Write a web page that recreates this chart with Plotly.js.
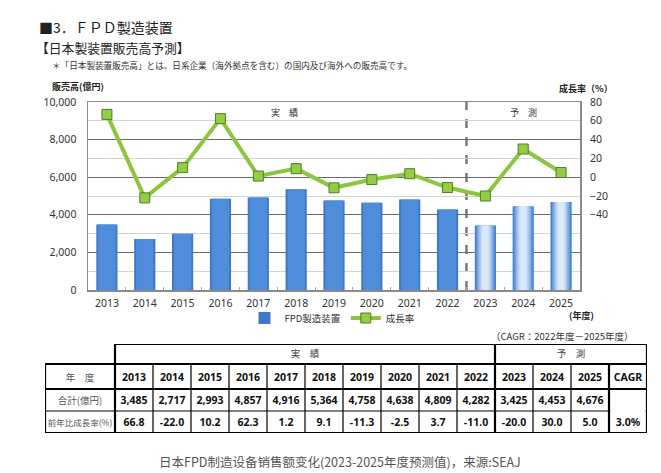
<!DOCTYPE html>
<html>
<head>
<meta charset="utf-8">
<script src="https://cdn.plot.ly/plotly-3.0.1.min.js"></script>
<style>html,body{margin:0;padding:0;background:#fff;}#chart{width:661px;height:473px;}</style>
</head>
<body>
<div id="chart"></div>
<script>
// ---- data ----
const years = ['2013','2014','2015','2016','2017','2018','2019','2020','2021','2022','2023','2024','2025'];
const sales = [3485, 2717, 2993, 4857, 4916, 5364, 4758, 4638, 4809, 4282, 3425, 4453, 4676];
const growth = [66.8, -22.0, 10.2, 62.3, 1.2, 9.1, -11.3, -2.5, 3.7, -11.0, -20.0, 30.0, 5.0];
const phase = ['実績','実績','実績','実績','実績','実績','実績','実績','実績','実績','予測','予測','予測'];
const cagrValue = '3.0%';
const rowLabels = ['年　度', '合計(億円)', '前年比成長率(%)'];
const phaseHeaders = ['実　績', '予　測'];
const leftAxisTicks = [0, 2000, 4000, 6000, 8000, 10000];
const rightAxisTicks = [-40, -20, 0, 20, 40, 60, 80];

// ---- helpers ----
const W = 661, H = 473;
const px = x => x / W;
const py = y => 1 - y / H;
const nActual = phase.filter(p => p === '実績').length;
const actualVals = sales.map((v, i) => phase[i] === '実績' ? v : null);
const forecastVals = sales.map((v, i) => phase[i] === '予測' ? v : null);

const traces = [];
traces.push({type:'bar', x: years, y: actualVals, width: 0.56, name: 'FPD製造装置',
  marker: {color: '#3f78c8', line: {width: 0}}, showlegend: true, hoverinfo:'skip'});
traces.push({type:'bar', x: years, y: actualVals, width: 0.46, showlegend: false,
  marker: {color: '#4f8ddb', line: {width: 0}}, hoverinfo:'skip'});
const gradW = [0.56, 0.48, 0.40, 0.32, 0.24, 0.16];
const gradC = ['#4680d0', '#679bdc', '#8bb3e6', '#accaef', '#c7dcf5', '#dbe8f9'];
gradW.forEach((w, k) => traces.push({type:'bar', x: years, y: forecastVals, width: w, showlegend: false,
  marker: {color: gradC[k], line: {width: 0}}, hoverinfo:'skip'}));
traces.push({type:'scatter', mode:'lines+markers', x: years, y: growth, yaxis: 'y2', name: '成長率',
  line: {color: '#8cc63f', width: 4},
  marker: {symbol: 'square', size: 10, color: '#93cc46', line: {color: '#4f7f22', width: 1}},
  showlegend: true, hoverinfo:'skip'});

// ---- table (heatmap cells on their own axes; units = pixels of the table box) ----
const labelColW = 70, yearColW = 38;
const colEdges = [0, labelColW];
for (let i = 0; i <= years.length; i++) colEdges.push(labelColW + (i + 1) * yearColW);
const tableW = colEdges[colEdges.length - 1];
const rowEdges = [20, 45, 67, 89];           // header row, 合計 row, 成長率 row
const mergedEdges = [0, 20];
const splitCol = labelColW + nActual * yearColW;
const cagrCol = labelColW + years.length * yearColW;

const lbl = (s, fs) => '<span style="font-family:Noto Sans CJK JP;font-weight:normal;font-size:' + fs + 'px;color:#555">' + s + '</span>';
const tableText = [
  [lbl(rowLabels[0], 9.5)].concat(years.map(y => '<b>' + y + '</b>'), ['<b>CAGR</b>']),
  [lbl(rowLabels[1], 9.5)].concat(sales.map(v => '<b>' + v.toLocaleString('en-US') + '</b>'), ['']),
  [lbl(rowLabels[2], 8.5)].concat(growth.map(v => '<b>' + v.toFixed(1) + '</b>'), ['<b>' + cagrValue + '</b>'])
];
const zeros = tableText.map(r => r.map(() => 0));
const clear = [[0, 'rgba(255,255,255,0)'], [1, 'rgba(255,255,255,0)']];
traces.push({type:'heatmap', xaxis:'x3', yaxis:'y3', x: colEdges, y: rowEdges, z: zeros, text: tableText,
  texttemplate: '%{text}', textfont: {family: 'Noto Sans', size: 10.5, color: '#111'},
  colorscale: clear, showscale: false, hoverinfo: 'skip'});
traces.push({type:'heatmap', xaxis:'x3', yaxis:'y3', x: [labelColW, splitCol, tableW], y: mergedEdges,
  z: [[0, 0]], text: [phaseHeaders], texttemplate: '%{text}',
  textfont: {family: 'Noto Sans CJK JP', size: 9.5, color: '#444'},
  colorscale: clear, showscale: false, hoverinfo: 'skip'});

// ---- shapes ----
const T = (o) => Object.assign({xref:'x3', yref:'y3'}, o);
const shapes = [
  {type:'line', xref:'x', yref:'y domain', x0: nActual - 0.5, x1: nActual - 0.5, y0: 0, y1: 1,
   line: {color: '#7a7a7a', width: 2.5, dash: 'dash'}, layer: 'below'}
];
// thin cell dividers
colEdges.slice(1, -1).forEach(cx => shapes.push(T({type:'line', x0: cx, x1: cx, y0: rowEdges[0], y1: rowEdges[3],
  line: {color:'#000', width:1.2}})));
rowEdges.slice(1, -1).forEach(cy => shapes.push(T({type:'line', x0: 0, x1: tableW, y0: cy, y1: cy,
  line: {color:'#000', width:1.2}})));
// thick borders
const thick = () => ({color:'#000', width:2.2});
shapes.push(
  T({type:'rect', x0: 0, x1: tableW, y0: rowEdges[0], y1: rowEdges[3], line: thick()}),
  T({type:'rect', x0: labelColW, x1: tableW, y0: 0, y1: rowEdges[0], line: thick()}),
  T({type:'line', x0: labelColW, x1: labelColW, y0: rowEdges[0], y1: rowEdges[3], line: thick()}),
  T({type:'line', x0: splitCol, x1: splitCol, y0: 0, y1: rowEdges[3], line: thick()}),
  T({type:'line', x0: cagrCol, x1: cagrCol, y0: rowEdges[0], y1: rowEdges[3], line: thick()}),
  T({type:'line', x0: 0, x1: tableW, y0: rowEdges[1], y1: rowEdges[1], line: thick()}),
  // merged CAGR value cell: hide the divider between its two rows
  T({type:'line', x0: cagrCol + 1.5, x1: tableW - 1.5, y0: rowEdges[2], y1: rowEdges[2], line: {color:'#fff', width:2}})
);

// ---- annotations ----
const jp = 'Noto Sans CJK JP';
const A = (text, x, y, xanchor, size, color, family, xref) => ({text, x, y, xref: xref || 'paper', yref:'paper',
  xanchor, yanchor:'middle', showarrow:false, font:{family: family || jp, size, color}});
const annotations = [
  A('■3．ＦＰＤ製造装置', px(37), py(27), 'left', 14, '#222'),
  A('【日本製装置販売高予測】', px(34), py(47), 'left', 12.8, '#222'),
  A('＊「日本製装置販売高」とは、日系企業（海外拠点を含む）の国内及び海外への販売高です。', px(50), py(65), 'left', 8.6, '#333'),
  A('<b>販売高(億円)</b>', px(50), py(87), 'left', 9, '#222'),
  A('<b>成長率（%）</b>', px(615), py(88), 'right', 9, '#222'),
  A('<b>(年度)</b>', px(581), py(315), 'center', 9, '#222'),
  A(phaseHeaders[0], (nActual - 1) / 2 + 0.2, py(112), 'center', 9, '#333', jp, 'x'),
  A(phaseHeaders[1], nActual + (years.length - nActual - 1) / 2, py(112), 'center', 9, '#333', jp, 'x'),
  A('（CAGR：2022年度－2025年度）', px(636), py(336), 'right', 9.5, '#333'),
  A('日本FPD制造设备销售额变化(2023-2025年度预测值)，来源:SEAJ', px(340), py(461), 'center', 12.5, '#555', 'Noto Sans CJK SC')
];

const tickFont = {family: 'Noto Sans, Noto Sans CJK JP', size: 10.5, color: '#333'};
const hidden = () => ({showgrid:false, zeroline:false, showticklabels:false, showline:false, ticks:'', fixedrange:true});
const layout = {
  width: W, height: H, autosize: false,
  margin: {l: 0, r: 0, t: 0, b: 0, pad: 0},
  paper_bgcolor: '#fff', plot_bgcolor: 'rgba(0,0,0,0)',
  barmode: 'overlay',
  font: {family: 'Noto Sans, Noto Sans CJK JP', color: '#333'},
  xaxis: {domain: [px(88), px(580)], type: 'category', range: [-0.5, years.length - 0.5],
    tickfont: tickFont, showgrid: false, zeroline: false,
    showline: true, linecolor: '#8a8a8a', linewidth: 1.5, mirror: true,
    ticks: 'inside', tickson: 'boundaries', ticklen: 3, tickcolor: '#aaa', ticklabelstandoff: 3},
  yaxis: {domain: [py(290), py(102)], range: [0, 10000], tickvals: leftAxisTicks, tickformat: ',d',
    tickfont: tickFont, showgrid: true, gridcolor: '#6a6a6a', gridwidth: 1.2, zeroline: false,
    showline: true, linecolor: '#8a8a8a', linewidth: 1.5, mirror: true, ticks: '', ticklabelstandoff: 8,
    minor: {dtick: 1000, showgrid: true, gridcolor: '#d3d3d3', gridwidth: 1, ticks: ''}},
  yaxis2: {overlaying: 'y', side: 'right', range: [-120, 80], tickvals: rightAxisTicks,
    tickfont: tickFont, showgrid: false, zeroline: false, showline: false, ticks: '', ticklabelstandoff: 9},
  xaxis3: Object.assign({domain: [px(45), px(45 + tableW)], range: [0, tableW], anchor: 'y3'}, hidden()),
  yaxis3: Object.assign({domain: [py(344 + rowEdges[3]), py(344)], range: [rowEdges[3], 0], anchor: 'x3'}, hidden()),
  legend: {orientation: 'h', x: px(332), y: py(318), xanchor: 'center', yanchor: 'middle',
    font: {family: jp, size: 9.5, color: '#333'}, bgcolor: 'rgba(0,0,0,0)', itemwidth: 30, tracegroupgap: 0},
  shapes: shapes,
  annotations: annotations
};

Plotly.newPlot('chart', traces, layout, {staticPlot: true, displayModeBar: false});
</script>
</body>
</html>
